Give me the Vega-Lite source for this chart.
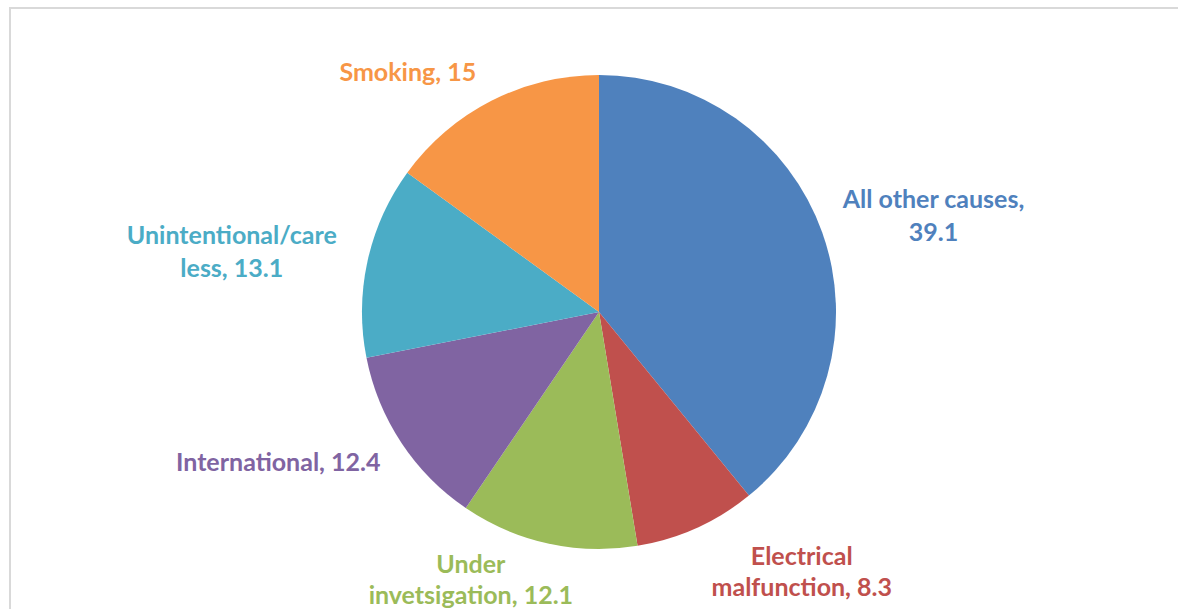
{
  "$schema": "https://vega.github.io/schema/vega-lite/v6.json",
  "width": 1172,
  "height": 605,
  "autosize": {"type": "none"},
  "padding": {"left": 10, "top": 8, "right": -4, "bottom": -4},
  "background": "white",
  "view": {"stroke": "#d9d9d9", "strokeWidth": 2},
  "config": {"view": {"stroke": "#d9d9d9", "strokeWidth": 2}},
  "data": {"values": [
    {"idx": 1, "cause": "All other causes", "value": 39.1, "label": "All other causes,|39.1"},
    {"idx": 2, "cause": "Electrical malfunction", "value": 8.3, "label": "Electrical|malfunction, 8.3"},
    {"idx": 3, "cause": "Under invetsigation", "value": 12.1, "label": "Under|invetsigation, 12.1"},
    {"idx": 4, "cause": "International", "value": 12.4, "label": "International, 12.4"},
    {"idx": 5, "cause": "Unintentional/careless", "value": 13.1, "label": "Unintentional/care|less, 13.1"},
    {"idx": 6, "cause": "Smoking", "value": 15, "label": "Smoking, 15"}
  ]},
  "encoding": {
    "theta": {"field": "value", "type": "quantitative", "stack": true},
    "order": {"field": "idx", "type": "quantitative"},
    "color": {
      "field": "cause", "type": "nominal", "legend": null, "sort": null,
      "scale": {
        "domain": ["All other causes", "Electrical malfunction", "Under invetsigation", "International", "Unintentional/careless", "Smoking"],
        "range": ["#4F81BD", "#C0504D", "#9BBB59", "#8064A2", "#4BACC6", "#F79646"]
      }
    }
  },
  "layer": [
    {"mark": {"type": "arc", "outerRadius": 237, "xOffset": 3, "yOffset": 1.5}},
    {
      "mark": {"type": "text", "radius": 353, "dx": 2, "dy": 7, "xOffset": 3, "yOffset": 1.5, "font": "Lato", "fontWeight": "bold", "fontSize": 25, "lineBreak": "|", "lineHeight": 33, "align": "center", "baseline": "middle"},
      "encoding": {"text": {"condition": {"test": "datum.idx == 1", "field": "label"}, "value": ""}}
    },
    {
      "mark": {"type": "text", "radius": 308, "dx": 76, "dy": -36, "xOffset": 3, "yOffset": 1.5, "font": "Lato", "fontWeight": "bold", "fontSize": 25, "lineBreak": "|", "lineHeight": 31, "align": "center", "baseline": "middle"},
      "encoding": {"text": {"condition": {"test": "datum.idx == 2", "field": "label"}, "value": ""}}
    },
    {
      "mark": {"type": "text", "radius": 275, "dx": -69, "dy": -16, "xOffset": 3, "yOffset": 1.5, "font": "Lato", "fontWeight": "bold", "fontSize": 25, "lineBreak": "|", "lineHeight": 31, "align": "center", "baseline": "middle"},
      "encoding": {"text": {"condition": {"test": "datum.idx == 3", "field": "label"}, "value": ""}}
    },
    {
      "mark": {"type": "text", "radius": 351, "dx": -28, "dy": -43, "xOffset": 3, "yOffset": 1.5, "font": "Lato", "fontWeight": "bold", "fontSize": 25, "lineBreak": "|", "lineHeight": 33, "align": "center", "baseline": "middle"},
      "encoding": {"text": {"condition": {"test": "datum.idx == 4", "field": "label"}, "value": ""}}
    },
    {
      "mark": {"type": "text", "radius": 375, "dx": -1, "dy": 5, "xOffset": 3, "yOffset": 1.5, "font": "Lato", "fontWeight": "bold", "fontSize": 25, "lineBreak": "|", "lineHeight": 33, "align": "center", "baseline": "middle"},
      "encoding": {"text": {"condition": {"test": "datum.idx == 5", "field": "label"}, "value": ""}}
    },
    {
      "mark": {"type": "text", "radius": 300, "dx": -55, "dy": 28, "xOffset": 3, "yOffset": 1.5, "font": "Lato", "fontWeight": "bold", "fontSize": 25, "lineBreak": "|", "lineHeight": 33, "align": "center", "baseline": "middle"},
      "encoding": {"text": {"condition": {"test": "datum.idx == 6", "field": "label"}, "value": ""}}
    }
  ]
}
